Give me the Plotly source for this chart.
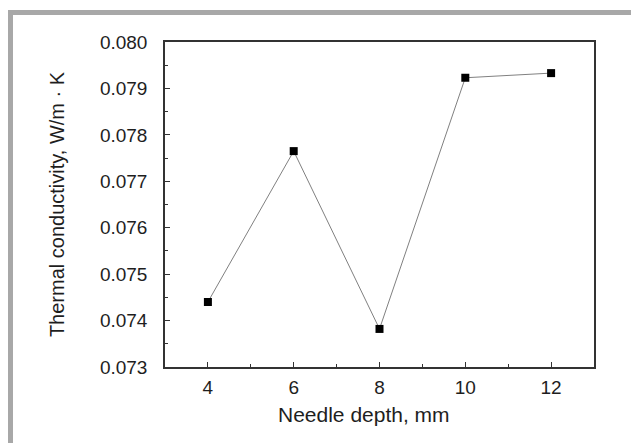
import plotly.graph_objects as go

needle_depth = [4, 6, 8, 10, 12]
conductivity = [0.07440, 0.07765, 0.07382, 0.07923, 0.07933]
y_ticks = [0.073, 0.074, 0.075, 0.076, 0.077, 0.078, 0.079, 0.080]
y_tick_labels = ["0.073", "0.074", "0.075", "0.076", "0.077", "0.078", "0.079", "0.080"]
x_ticks = [4, 6, 8, 10, 12]

# page body has an 8px margin; figure sized to fit the window
W, H = 631, 435
L, R, T, B = 157, 45, 34, 76
pw, ph = W - L - R, H - T - B

def px(x):
    return (x - L) / pw

def py(y):
    return (H - B - y) / ph

fig = go.Figure()
fig.add_trace(go.Scatter(
    x=needle_depth, y=conductivity, mode="lines+markers",
    line=dict(color="#808080", width=1),
    marker=dict(symbol="square", size=8, color="black"),
    showlegend=False,
))

fam = "Liberation Sans, Arial, sans-serif"
tick_font = dict(family=fam, size=19, color="#1e1e1e")
axis_common = dict(
    showline=True, linecolor="#333333", linewidth=1.5, mirror=True,
    ticks="inside", ticklen=5, tickwidth=1, tickcolor="#333333",
    showgrid=False, zeroline=False, tickfont=tick_font,
)
fig.update_xaxes(
    range=[3, 13], tickvals=x_ticks, ticktext=[str(v) for v in x_ticks],
    minor=dict(ticks="inside", ticklen=3, dtick=1, tick0=3, tickcolor="#333333", showgrid=False),
    ticklabelstandoff=2,
    **axis_common,
)
fig.update_yaxes(
    range=[0.073, 0.080], tickvals=y_ticks, ticktext=y_tick_labels,
    minor=dict(ticks="inside", ticklen=3, dtick=0.0005, tick0=0.073, tickcolor="#333333", showgrid=False),
    title=dict(text="Thermal conductivity, W/m · K", font=dict(family=fam, size=20, color="#1e1e1e"), standoff=30),
    ticklabelstandoff=12,
    **axis_common,
)

fig.add_annotation(
    text="Needle depth, mm", xref="paper", yref="paper",
    x=px(355.5), y=py(406), xanchor="center", yanchor="middle",
    showarrow=False, font=dict(family=fam, size=21, color="#1e1e1e"),
)

fig.add_shape(
    type="rect", xref="paper", yref="paper",
    x0=px(2.5), x1=px(800), y0=py(4.5), y1=py(800),
    line=dict(color="#a8a8a8", width=5), fillcolor="rgba(0,0,0,0)", layer="below",
)

fig.update_layout(
    width=W, height=H, margin=dict(l=L, r=R, t=T, b=B),
    paper_bgcolor="white", plot_bgcolor="white",
    font=tick_font,
)
fig.write_html("out.html")
